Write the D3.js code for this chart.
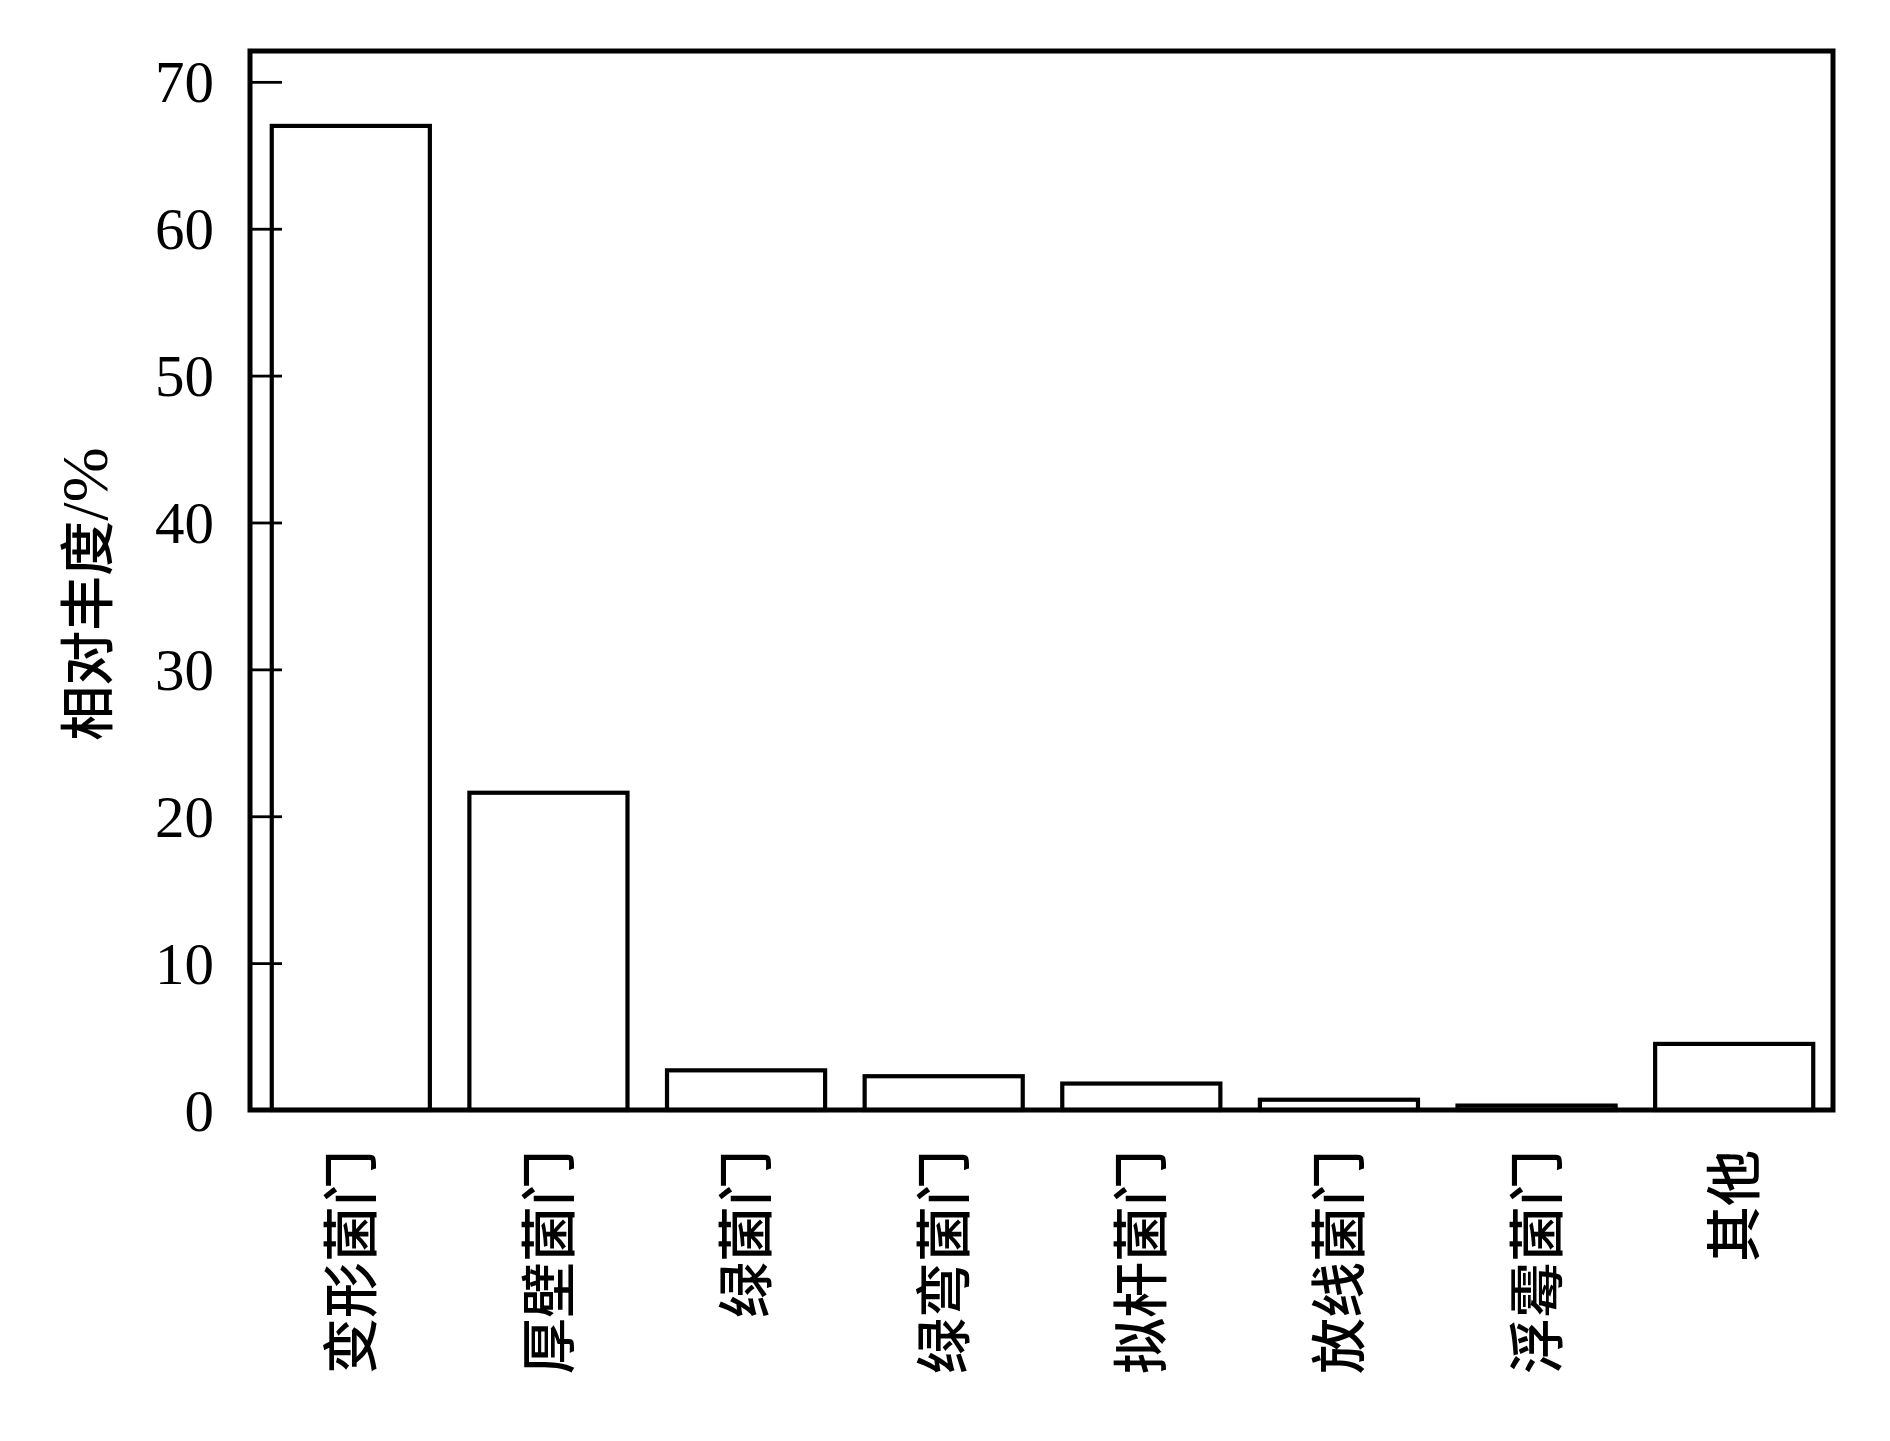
<!DOCTYPE html>
<html>
<head>
<meta charset="utf-8">
<script src="https://cdn.jsdelivr.net/npm/d3@7/dist/d3.min.js"></script>
<style>
  html, body { margin: 0; padding: 0; background: #fff; }
  svg { display: block; }
</style>
</head>
<body>
<svg id="chart" width="1890" height="1441"></svg>
<script>
const categories = ["变形菌门", "厚壁菌门", "绿菌门", "绿弯菌门", "拟杆菌门", "放线菌门", "浮霉菌门", "其他"];
const values = [67.0, 21.6, 2.7, 2.3, 1.8, 0.7, 0.3, 4.5];
const yTicks = [0, 10, 20, 30, 40, 50, 60, 70];
const yLabel = "相对丰度/%";

(function () {
const svg = d3.select("#chart");
svg.append("rect").attr("width", 1890).attr("height", 1441).attr("fill", "#fff");

const mLeft = 250, mRight = 1833, mTop = 51, mBottom = 1110;

const x = d3.scaleBand().domain(categories).range([mLeft + 2, mRight])
  .paddingInner(0.2).paddingOuter(0.1);
const y = d3.scaleLinear().domain([0, 72.1]).range([mBottom, mTop]);

// bars
svg.append("g").selectAll("rect").data(values).join("rect")
  .attr("x", (d, i) => x(categories[i]))
  .attr("y", d => y(d))
  .attr("width", x.bandwidth())
  .attr("height", d => y(0) - y(d))
  .attr("fill", "#fff")
  .attr("stroke", "#000")
  .attr("stroke-width", 4.2);

// y axis with inward ticks
const yAxis = d3.axisLeft(y).tickValues(yTicks).tickSize(-32).tickPadding(0).tickFormat(d3.format("d"));
const gy = svg.append("g").attr("transform", `translate(${mLeft},0)`).call(yAxis);
gy.select(".domain").remove();
gy.selectAll(".tick line").attr("stroke", "#000").attr("stroke-width", 2.8);
gy.selectAll(".tick text")
  .attr("x", -36)
  .attr("dy", "0.34em")
  .attr("fill", "#000")
  .style("font-family", "'Liberation Serif', 'Times New Roman', serif")
  .style("font-size", "59px");

// frame
svg.append("rect")
  .attr("x", mLeft).attr("y", mTop)
  .attr("width", mRight - mLeft).attr("height", mBottom - mTop)
  .attr("fill", "none").attr("stroke", "#000").attr("stroke-width", 5);

// x labels (rotated)
svg.append("g").selectAll("text").data(categories).join("text")
  .attr("transform", d => `translate(${x(d) + x.bandwidth() / 2},1150) rotate(-90)`)
  .attr("text-anchor", "end")
  .attr("dy", "0.36em")
  .attr("fill", "#000")
  .style("font-family", "'Noto Sans CJK SC', sans-serif")
  .style("font-weight", "500")
  .style("font-size", "56px")
  .text(d => d);

// y label: CJK part and unit part
const cut = yLabel.indexOf("/");
const yl = svg.append("text")
  .attr("transform", `translate(87,594) rotate(-90)`)
  .attr("text-anchor", "middle")
  .attr("dy", "0.36em")
  .attr("fill", "#000")
  .style("font-size", "55px");
yl.append("tspan")
  .style("font-family", "'Noto Sans CJK SC', sans-serif")
  .style("font-weight", "500")
  .style("font-size", "55px")
  .text(yLabel.slice(0, cut));
yl.append("tspan")
  .style("font-family", "'Liberation Serif', serif")
  .style("font-size", "66px")
  .text(yLabel.slice(cut));
})();
</script>
</body>
</html>
